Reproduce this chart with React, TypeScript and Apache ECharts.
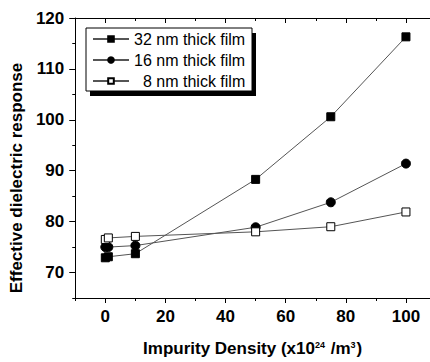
import React, { useEffect, useRef } from 'react';
import * as echarts from 'echarts';

const xValues = [0, 1, 10, 50, 75, 100];
const film32 = [72.9, 73.1, 73.7, 88.3, 100.6, 116.3];
const film16 = [75.0, 75.0, 75.3, 78.9, 83.8, 91.4];
const film8 = [76.5, 76.8, 77.1, 78.0, 79.0, 81.9];
const seriesNames = ['32 nm thick film', '16 nm thick film', '8 nm thick film'];
const xMajorTicks = [0, 20, 40, 60, 80, 100];
const xMinorTicks = [-10, 10, 30, 50, 70, 90];
const yMajorTicks = [70, 80, 90, 100, 110, 120];
const yMinorTicks = [65, 75, 85, 95, 105, 115];

const FONT = 'Liberation Sans, Arial, sans-serif';
const AX = '#000';

function makeX(position: 'bottom' | 'top', ticks: number[], len: number, inside: boolean, labels: boolean, showLine: boolean, name?: boolean) {
  return {
    type: 'value',
    position,
    min: -10,
    max: 108,
    splitLine: { show: false },
    axisLine: { show: showLine, onZero: false, lineStyle: { color: AX, width: 1 } },
    axisTick: { show: true, inside, length: len, customValues: ticks, lineStyle: { color: AX, width: 1 } },
    axisLabel: labels
      ? { show: true, customValues: xMajorTicks, color: '#000', fontSize: 17, fontWeight: 'bold', fontFamily: FONT, margin: 10 }
      : { show: false },
    ...(name
      ? {
          name: 'Impurity Density (x10{sup|24} /m{sup|3})',
          nameLocation: 'middle',
          nameGap: 42,
          nameTextStyle: {
            color: '#000',
            fontSize: 17,
            fontWeight: 'bold',
            fontFamily: FONT,
            rich: {
              sup: { fontSize: 9, fontWeight: 'bold', fontFamily: FONT, verticalAlign: 'top', color: '#000', padding: [0, 1, 0, 0] },
            },
          },
        }
      : {}),
  };
}

function makeY(ticks: number[], len: number, labels: boolean, showLine: boolean, name?: boolean) {
  return {
    type: 'value',
    position: 'left',
    min: 65,
    max: 120,
    splitLine: { show: false },
    axisLine: { show: showLine, onZero: false, lineStyle: { color: AX, width: 1 } },
    axisTick: { show: true, inside: false, length: len, customValues: ticks, lineStyle: { color: AX, width: 1 } },
    axisLabel: labels
      ? { show: true, customValues: yMajorTicks, color: '#000', fontSize: 17, fontWeight: 'bold', fontFamily: FONT, margin: 11 }
      : { show: false },
    ...(name
      ? {
          name: 'Effective dielectric response',
          nameLocation: 'middle',
          nameGap: 47,
          nameRotate: 90,
          nameTextStyle: { color: '#000', fontSize: 17, fontWeight: 'bold', fontFamily: FONT, padding: [0, 40, 0, 0] },
        }
      : {}),
  };
}

export default function App() {
  const ref = useRef<HTMLDivElement>(null);
  useEffect(() => {
    if (!ref.current) return;
    const chart = echarts.init(ref.current, null, { renderer: 'svg' });
    const lineStyle = { color: '#555', width: 1 };
    chart.setOption({
      animation: false,
      backgroundColor: '#fff',
      grid: { left: 75, right: 0, top: 18, bottom: 59 },
      graphic: [
        { type: 'rect', z: 1, shape: { x: 90, y: 33, width: 166, height: 63 }, style: { fill: '#000' } },
        { type: 'rect', z: 2, shape: { x: 86, y: 28, width: 166, height: 63 }, style: { fill: '#fff', stroke: '#000', lineWidth: 1 } },
      ],
      legend: {
        z: 10,
        orient: 'vertical',
        left: 92,
        top: 31,
        data: seriesNames,
        itemWidth: 36,
        itemHeight: 7,
        itemGap: 5,
        padding: 0,
        selectedMode: false,
        textStyle: {
          color: '#000',
          fontSize: 16,
          fontFamily: FONT,
          rich: { p: { fontSize: 16, fontFamily: FONT, color: '#000', padding: [0, 0, 0, 9] } },
        },
        formatter: (n: string) => (n.startsWith('8') ? '{p|' + n + '}' : n),
      },
      xAxis: [
        makeX('bottom', xMajorTicks, 5, false, true, true, true),
        makeX('bottom', xMinorTicks, 3, false, false, false),
        makeX('top', xMajorTicks, 5, true, false, true),
        makeX('top', xMinorTicks, 3, true, false, false),
      ],
      yAxis: [makeY(yMajorTicks, 6, true, true, true), makeY(yMinorTicks, 3, false, false)],
      series: [
        {
          name: seriesNames[0],
          type: 'line',
          data: xValues.map((x, i) => [x, film32[i]]),
          symbol: 'rect',
          symbolSize: 8,
          lineStyle,
          itemStyle: { color: '#000', borderColor: '#000', borderWidth: 1 },
        },
        {
          name: seriesNames[1],
          type: 'line',
          data: xValues.map((x, i) => [x, film16[i]]),
          symbol: 'circle',
          symbolSize: 9,
          lineStyle,
          itemStyle: { color: '#000', borderColor: '#000', borderWidth: 1 },
        },
        {
          name: seriesNames[2],
          type: 'line',
          data: xValues.map((x, i) => [x, film8[i]]),
          symbol: 'rect',
          symbolSize: 8,
          lineStyle,
          itemStyle: { color: '#fff', borderColor: '#000', borderWidth: 1 },
        },
      ],
    });
    return () => chart.dispose();
  }, []);
  return <div ref={ref} style={{ position: 'fixed', left: 0, top: 0, width: 430, height: 362 }} />;
}
